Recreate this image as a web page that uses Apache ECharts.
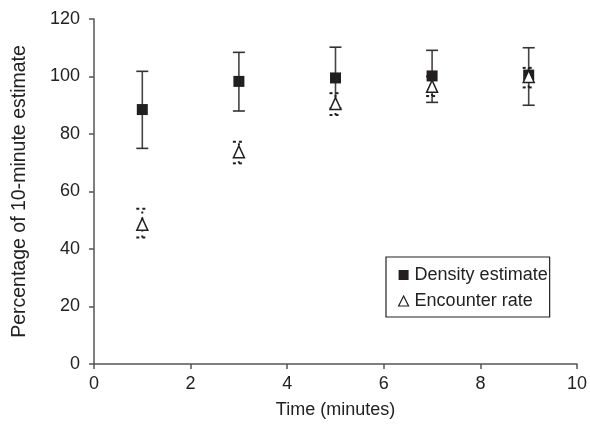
<!DOCTYPE html>
<html>
<head>
<meta charset="utf-8">
<script src="https://cdn.jsdelivr.net/npm/echarts@6/dist/echarts.min.js"></script>
<style>html,body{margin:0;padding:0;background:#fff;}#c{width:590px;height:427px;}</style>
</head>
<body>
<div id="c"></div>
<script>
var times = [1, 3, 5, 7, 9];
var densityMean = [88.5, 98.3, 99.5, 100.2, 100.5];
var densityLow = [75, 88, 89, 91, 90];
var densityHigh = [101.8, 108.4, 110.2, 109.1, 110];
var encounterMean = [48.6, 73.8, 90.6, 96.6, 100];
var encounterLow = [44, 69.8, 86.6, 93.2, 96.2];
var encounterHigh = [54, 77.3, 94.2, 100, 103];
var xTicks = [0, 2, 4, 6, 8, 10];
var yTicks = [0, 20, 40, 60, 80, 100, 120];

var ink = '#231f20';
var font = 'Liberation Sans, Arial, Helvetica, sans-serif';

function errData(lo, hi) {
  return times.map(function (t, i) { return [t, lo[i], hi[i]]; });
}
function errRender(dashed) {
  return function (params, api) {
    var x = api.value(0);
    var p1 = api.coord([x, api.value(1)]);
    var p2 = api.coord([x, api.value(2)]);
    var hw = 6;
    var style = { stroke: dashed ? ink : '#444', lineWidth: dashed ? 2 : 1.6, lineDash: dashed ? [2, 4] : null };
    var capStyle = { stroke: dashed ? ink : '#333', lineWidth: dashed ? 2 : 1.6, lineDash: dashed ? [3, 3] : null };
    return {
      type: 'group',
      children: [
        { type: 'line', shape: { x1: p1[0], y1: p1[1], x2: p2[0], y2: p2[1] }, style: style },
        { type: 'line', shape: { x1: p1[0] - hw, y1: p1[1], x2: p1[0] + hw, y2: p1[1] }, style: capStyle },
        { type: 'line', shape: { x1: p2[0] - hw, y1: p2[1], x2: p2[0] + hw, y2: p2[1] }, style: capStyle }
      ]
    };
  };
}

var chart = echarts.init(document.getElementById('c'), null, { renderer: 'canvas' });
chart.setOption({
  animation: false,
  backgroundColor: '#fff',
  textStyle: { fontFamily: font },
  grid: { left: 94, right: 11, top: 19, bottom: 63 },
  xAxis: {
    type: 'value', min: xTicks[0], max: xTicks[xTicks.length - 1], interval: 2,
    name: 'Time (minutes)', nameLocation: 'middle', nameGap: 37,
    nameTextStyle: { fontSize: 18, color: '#222', fontFamily: font },
    axisLine: { lineStyle: { color: '#555', width: 1.5 } },
    axisTick: { show: true, length: 5, lineStyle: { color: '#555', width: 1.5 } },
    axisLabel: { fontSize: 18, color: '#222', margin: 11, fontFamily: font },
    splitLine: { show: false }
  },
  yAxis: {
    type: 'value', min: yTicks[0], max: yTicks[yTicks.length - 1], interval: 20,
    name: 'Percentage of 10-minute estimate', nameLocation: 'middle', nameGap: 64,
    nameTextStyle: { fontSize: 19.5, color: '#222', fontFamily: font },
    axisLine: { show: true, lineStyle: { color: '#555', width: 1.5 } },
    axisTick: { show: true, length: 5, lineStyle: { color: '#555', width: 1.5 } },
    axisLabel: { fontSize: 18, color: '#222', margin: 14, fontFamily: font },
    splitLine: { show: false }
  },
  legend: {
    orient: 'vertical', left: 386, top: 257,
    borderColor: '#222', borderWidth: 1.2, padding: [9, 2, 7, 12],
    itemGap: 8, itemWidth: 10, itemHeight: 10,
    textStyle: { fontSize: 18, color: '#222', fontFamily: font, padding: [0, 0, 0, 1] },
    data: [
      { name: 'Density estimate', icon: 'rect', itemStyle: { color: ink, borderWidth: 0 } },
      { name: 'Encounter rate', icon: 'triangle', itemStyle: { color: '#fff', borderColor: ink, borderWidth: 1.2 } }
    ]
  },
  series: [
    { name: 'densityErr', type: 'custom', renderItem: errRender(false), data: errData(densityLow, densityHigh), z: 2, silent: true },
    { name: 'encounterErr', type: 'custom', renderItem: errRender(true), data: errData(encounterLow, encounterHigh), z: 3, silent: true },
    {
      name: 'Density estimate', type: 'scatter', symbol: 'rect', symbolSize: 11,
      itemStyle: { color: ink, opacity: 1 },
      data: times.map(function (t, i) { return [t, densityMean[i]]; }), z: 4
    },
    {
      name: 'Encounter rate', type: 'scatter', symbol: 'triangle', symbolSize: [11, 12],
      itemStyle: { color: '#fff', borderColor: ink, borderWidth: 1.5, opacity: 1 },
      data: times.map(function (t, i) { return [t, encounterMean[i]]; }), z: 5
    }
  ]
});
</script>
</body>
</html>
